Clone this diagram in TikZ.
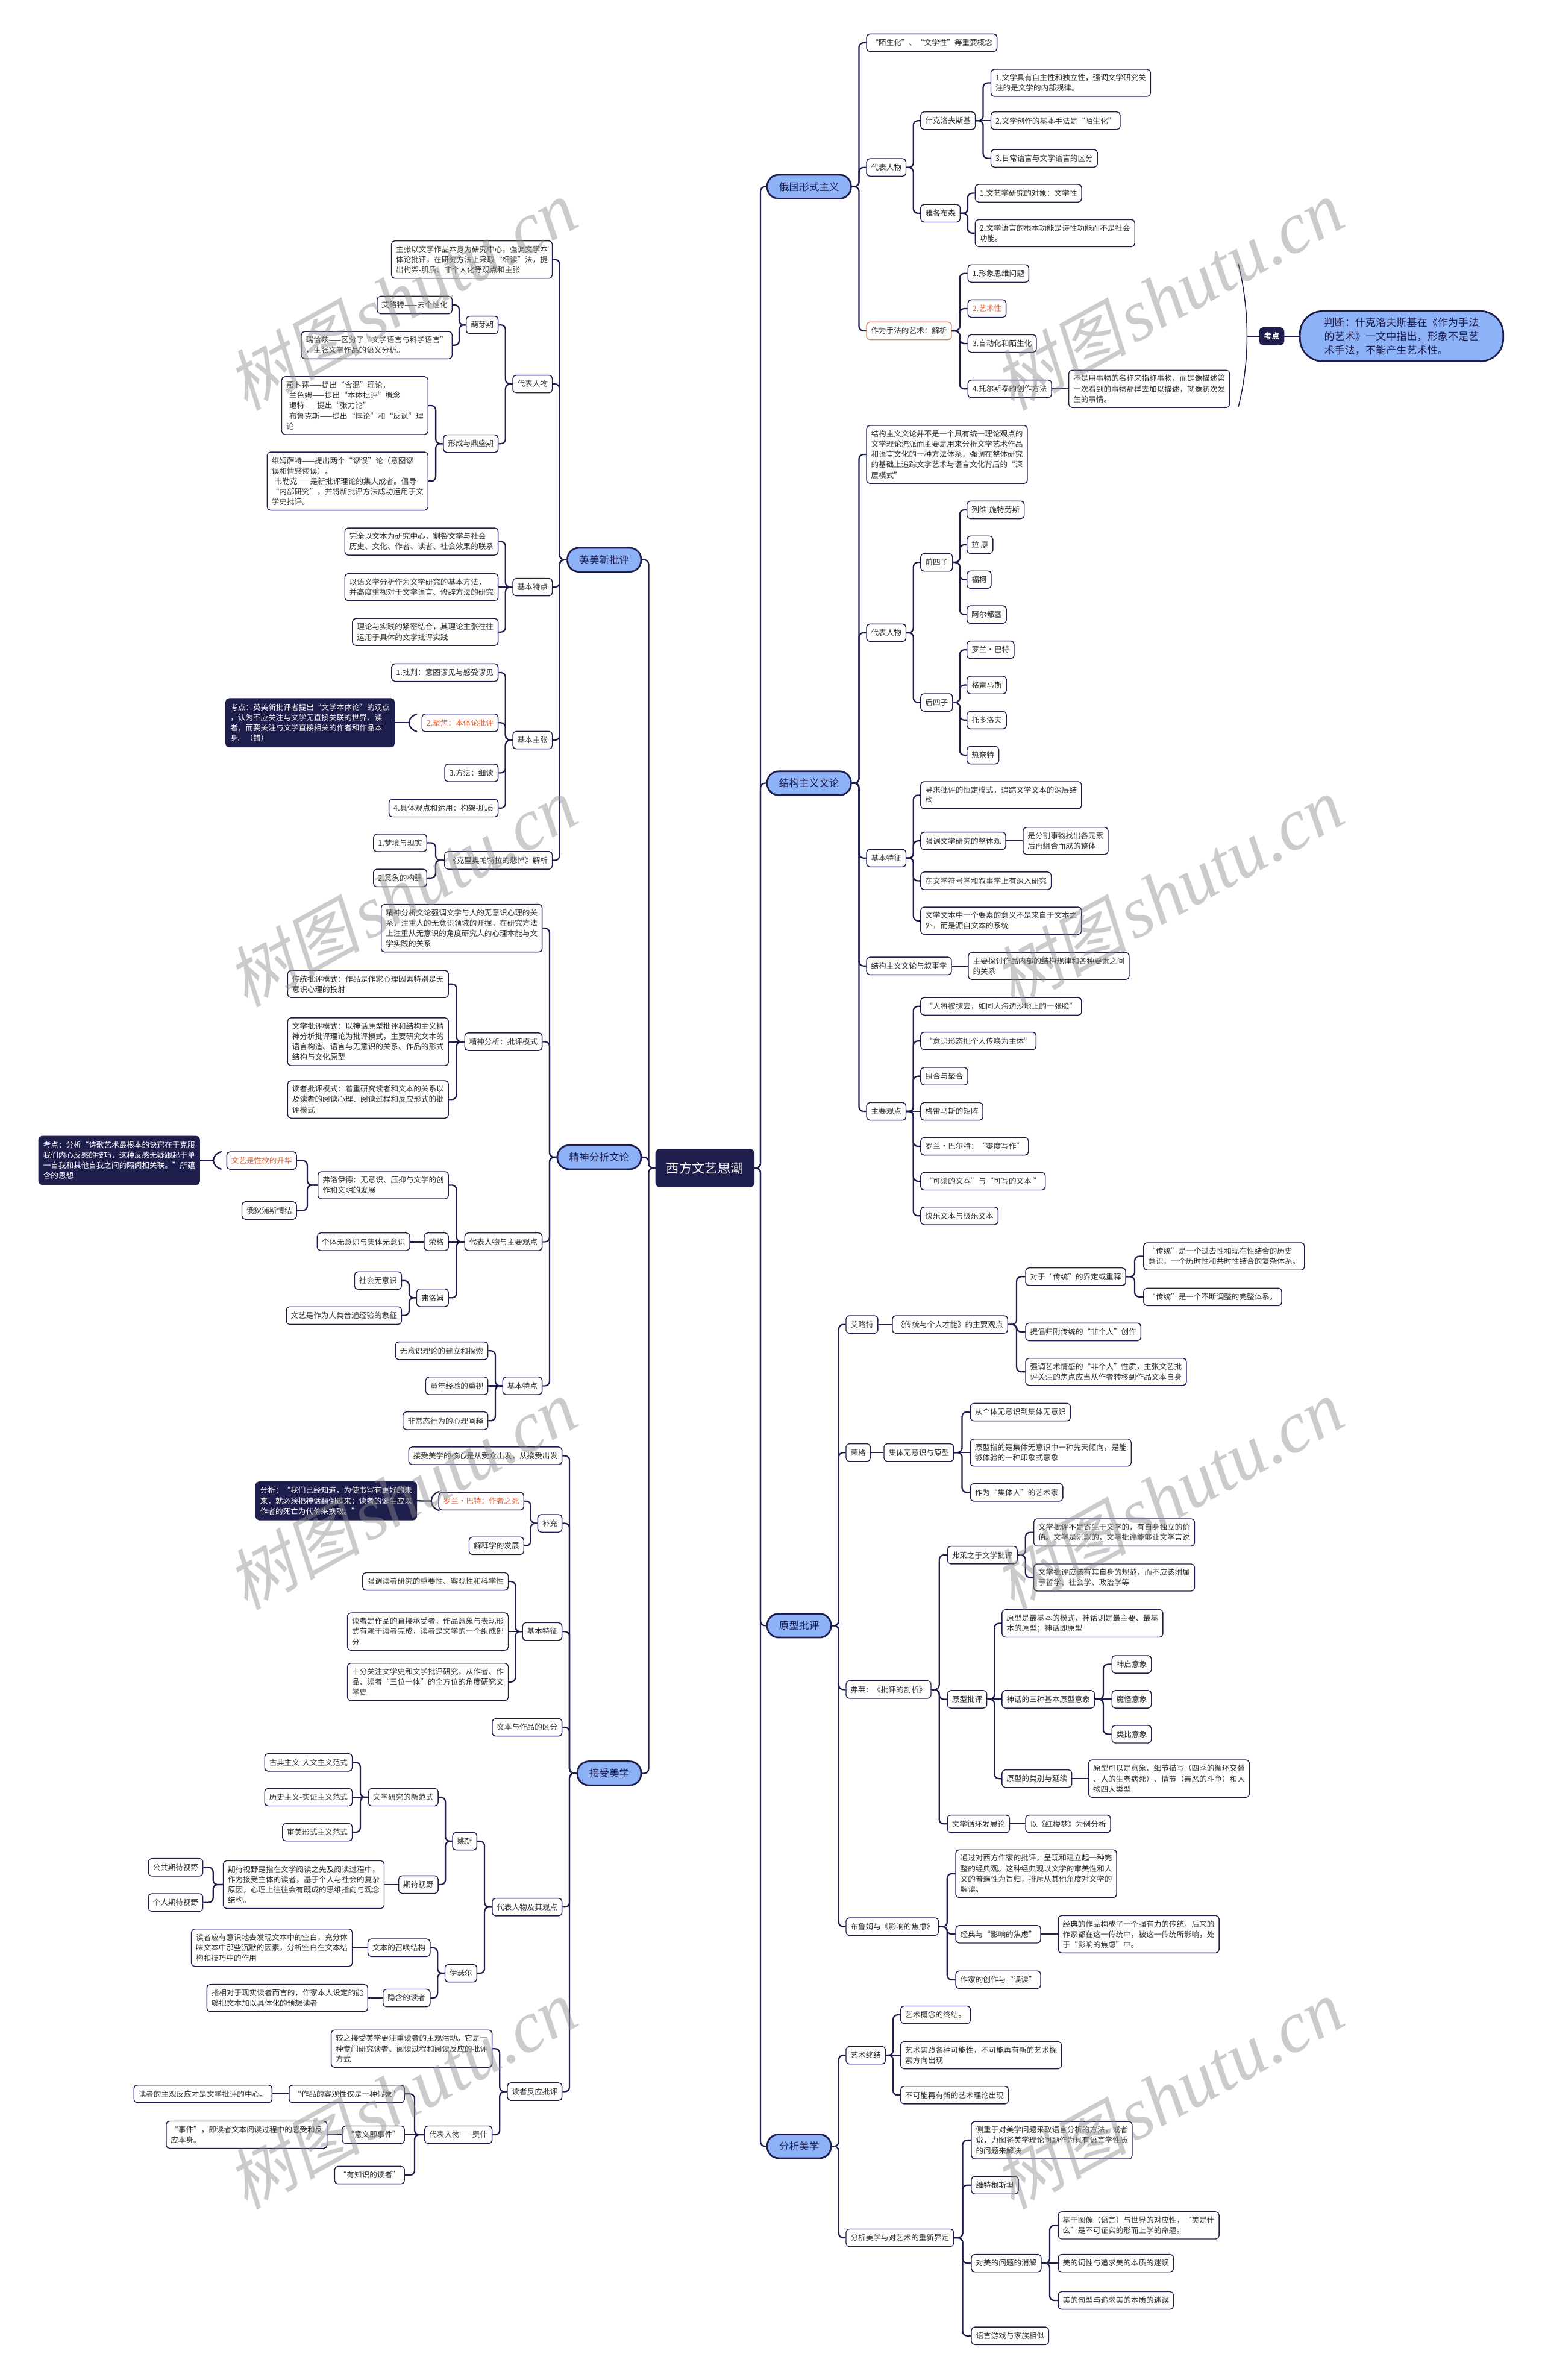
\documentclass[tikz,border=0pt]{standalone}
\usepackage{fontspec}
\setmainfont{Noto Sans CJK SC}
\newfontfamily\wmcjk[FakeSlant=0.2]{Noto Sans CJK SC}
\newfontfamily\wmlat{Liberation Serif}
\usetikzlibrary{calc}
\definecolor{navy}{HTML}{1E1E4D}
\definecolor{mainblue}{HTML}{8DB2F7}
\definecolor{orangec}{HTML}{E0633A}
\definecolor{orangeb}{HTML}{D98A6C}
\definecolor{txt}{HTML}{2E2E2E}
\newcommand\fs{\fontsize{5}{6.8}\selectfont}
\newcommand\fm{\fontsize{6.6}{8}\selectfont}
\tikzset{
 leaf/.style={draw=navy, line width=0.55pt, rounded corners=2.2pt, fill=white, text=txt, font=\fs, inner xsep=3pt, inner ysep=3.2pt, align=left, minimum height=11.6pt},
 lw/.style={leaf, anchor=west},
 le/.style={leaf, anchor=east},
 topic/.style={draw=navy, line width=1.1pt, rounded corners=7.5pt, fill=mainblue, text=navy, font=\fm, minimum height=15.7pt, inner xsep=7.8pt, inner ysep=2pt},
 conn/.style={draw=navy, line width=0.9pt, rounded corners=3pt},
 kaobox/.style={fill=navy, draw=navy, line width=0.55pt, rounded corners=2.2pt, text=white, font=\fs, align=left, inner xsep=3pt, inner ysep=3.4pt},
 hot/.style={text=orangec},
}
\newcommand{\rconn}[2]{\draw[conn] let \p1=(#1.east), \p2=(#2.west) in (\p1) -- ({0.5*\x1+0.5*\x2},\y1) |- (\p2);}
\newcommand{\lconn}[2]{\draw[conn] let \p1=(#1.west), \p2=(#2.east) in (\p1) -- ({0.5*\x1+0.5*\x2},\y1) |- (\p2);}
\newcommand{\rstr}[2]{\draw[conn] (#1.east) -- (#1.east -| #2.west);}
\newcommand{\lstr}[2]{\draw[conn] (#1.west) -- (#1.west -| #2.east);}
\begin{document}
\begin{tikzpicture}[x=1pt,y=-1pt]
\fill[white] (0,0) rectangle (1016,1568);
\useasboundingbox (0,0) rectangle (1016,1568);

% root
\node[fill=navy, draw=navy, rounded corners=3pt, text=white, font=\fontsize{8.5}{10}\selectfont, minimum width=65pt, minimum height=25pt, inner sep=0pt] (root) at (464.5,769.5) {西方文艺思潮};

% topics
\node[topic, anchor=west] (m1) at (505,123) {俄国形式主义};
\node[topic, anchor=west] (m2) at (505,516) {结构主义文论};
\node[topic, anchor=west] (m3) at (505,1071) {原型批评};
\node[topic, anchor=west] (m4) at (505,1414) {分析美学};
\node[topic, anchor=east] (L1) at (423,368.8) {英美新批评};
\node[topic, anchor=east] (L2) at (423,762.4) {精神分析文论};
\node[topic, anchor=east] (L3) at (423,1168.3) {接受美学};
\foreach \t in {m1,m2,m3,m4} {\rconn{root}{\t}}
\foreach \t in {L1,L2,L3} {\lconn{root}{\t}}

% ===== 俄国形式主义
\node[lw] (a1) at (570.7,28.2) {“陌生化”、“文学性”等重要概念};
\node[lw] (a2) at (570.7,110.3) {代表人物};
\node[lw, draw=orangeb] (a3) at (570.7,218) {作为手法的艺术：解析};
\node[lw] (a21) at (606.4,79.5) {什克洛夫斯基};
\node[lw] (a22) at (606.4,140.5) {雅各布森};
\node[lw] (a211) at (652.7,54.6) {1.文学具有自主性和独立性，强调文学研究关\\注的是文学的内部规律。};
\node[lw] (a212) at (652.7,79.5) {2.文学创作的基本手法是“陌生化”};
\node[lw] (a213) at (652.7,104.3) {3.日常语言与文学语言的区分};
\node[lw] (a221) at (642.3,127.3) {1.文艺学研究的对象：文学性};
\node[lw] (a222) at (642.3,153.6) {2.文学语言的根本功能是诗性功能而不是社会\\功能。};
\node[lw] (a31) at (637.5,180.2) {1.形象思维问题};
\node[lw, hot] (a32) at (637.5,203.3) {2.艺术性};
\node[lw] (a33) at (637.5,226.3) {3.自动化和陌生化};
\node[lw] (a34) at (637.5,256.2) {4.托尔斯泰的创作方法};
\node[lw] (a341) at (704,256.2) {不是用事物的名称来指称事物，而是像描述第\\一次看到的事物那样去加以描述，就像初次发\\生的事情。};
\foreach \t in {a1,a2,a3} {\rconn{m1}{\t}}
\foreach \t in {a21,a22} {\rconn{a2}{\t}}
\rconn{a21}{a211} \rstr{a21}{a212} \rconn{a21}{a213}
\rconn{a22}{a221} \rconn{a22}{a222}
\foreach \t in {a31,a32,a33,a34} {\rconn{a3}{\t}}
\rstr{a34}{a341}
\coordinate (arcT) at (816,174);
\coordinate (arcB) at (816,268);
\coordinate (arcM) at (821.7,221.5);
\draw[navy, line width=0.6pt] (arcT) .. controls (823.6,205) and (823.6,238) .. (arcB);
\node[kaobox, font=\fs\bfseries, inner ysep=3.2pt] (kd0) at (838,221.5) {考点};
\node[fill=mainblue, draw=navy, line width=1.1pt, rounded corners=15pt, anchor=west, align=left, font=\fontsize{6.8}{9.2}\selectfont, text=navy, inner xsep=16pt, inner ysep=4pt, minimum height=33pt] (judge) at (856,221.5) {判断：什克洛夫斯基在《作为手法\\的艺术》一文中指出，形象不是艺\\术手法，不能产生艺术性。};
\draw[conn] (arcM) -- (kd0.west);
\draw[conn] (kd0.east) -- (judge.west);

% ===== 结构主义文论
\node[lw] (b1) at (570.7,299.4) {结构主义文论并不是一个具有统一理论观点的\\文学理论流派而主要是用来分析文学艺术作品\\和语言文化的一种方法体系，强调在整体研究\\的基础上追踪文学艺术与语言文化背后的“深\\层模式”};
\node[lw] (b2) at (570.7,416.9) {代表人物};
\node[lw] (b3) at (570.7,565.3) {基本特征};
\node[lw] (b4) at (570.7,636.4) {结构主义文论与叙事学};
\node[lw] (b5) at (570.7,732.2) {主要观点};
\foreach \t in {b1,b2,b3,b4,b5} {\rconn{m2}{\t}}
\node[lw] (b21) at (606.4,370.5) {前四子};
\node[lw] (b22) at (606.4,462.8) {后四子};
\rconn{b2}{b21} \rconn{b2}{b22}
\node[lw] (b211) at (636.9,335.9) {列维-施特劳斯};
\node[lw] (b212) at (636.9,358.9) {拉\ 康};
\node[lw] (b213) at (636.9,381.9) {福柯};
\node[lw] (b214) at (636.9,404.9) {阿尔都塞};
\node[lw] (b221) at (636.9,428.1) {罗兰·巴特};
\node[lw] (b222) at (636.9,451.3) {格雷马斯};
\node[lw] (b223) at (636.9,474.4) {托多洛夫};
\node[lw] (b224) at (636.9,497.5) {热奈特};
\foreach \t in {b211,b212,b213,b214} {\rconn{b21}{\t}}
\foreach \t in {b221,b222,b223,b224} {\rconn{b22}{\t}}
\node[lw] (b31) at (606.4,523.9) {寻求批评的恒定模式，追踪文学文本的深层结\\构};
\node[lw] (b32) at (606.4,554) {强调文学研究的整体观};
\node[lw] (b321) at (673.9,554) {是分割事物找出各元素\\后再组合而成的整体};
\node[lw] (b33) at (606.4,580.3) {在文学符号学和叙事学上有深入研究};
\node[lw] (b34) at (606.4,606.6) {文学文本中一个要素的意义不是来自于文本之\\外，而是源自文本的系统};
\foreach \t in {b31,b32,b33,b34} {\rconn{b3}{\t}}
\rstr{b32}{b321}
\node[lw] (b41) at (637.8,636.4) {主要探讨作品内部的结构规律和各种要素之间\\的关系};
\rstr{b4}{b41}
\node[lw] (b51) at (606.4,663) {“人将被抹去，如同大海边沙地上的一张脸”};
\node[lw] (b52) at (606.4,685.8) {“意识形态把个人传唤为主体”};
\node[lw] (b53) at (606.4,709) {组合与聚合};
\node[lw] (b54) at (606.4,732.2) {格雷马斯的矩阵};
\node[lw] (b55) at (606.4,755.2) {罗兰·巴尔特：“零度写作”};
\node[lw] (b56) at (606.4,778.2) {“可读的文本”与“可写的文本 ”};
\node[lw] (b57) at (606.4,801) {快乐文本与极乐文本};
\foreach \t in {b51,b52,b53,b55,b56,b57} {\rconn{b5}{\t}}
\rstr{b5}{b54}

% ===== 原型批评
\node[lw] (c1) at (557.2,872.6) {艾略特};
\node[lw] (c2) at (557.2,957) {荣格};
\node[lw] (c3) at (557.2,1113.1) {弗莱：《批评的剖析》};
\node[lw] (c4) at (557.2,1269.3) {布鲁姆与《影响的焦虑》};
\foreach \t in {c1,c2,c3,c4} {\rconn{m3}{\t}}
\node[lw] (c11) at (587.7,872.6) {《传统与个人才能》的主要观点};
\rstr{c1}{c11}
\node[lw] (c111) at (675.5,841.1) {对于“传统”的界定或重释};
\node[lw] (c1111) at (753.3,827.7) {“传统”是一个过去性和现在性结合的历史\\意识，一个历时性和共时性结合的复杂体系。};
\node[lw] (c1112) at (753.3,854.4) {“传统”是一个不断调整的完整体系。};
\node[lw] (c112) at (675.5,877.5) {提倡归附传统的“非个人”创作};
\node[lw] (c113) at (675.5,903.8) {强调艺术情感的“非个人”性质，主张文艺批\\评关注的焦点应当从作者转移到作品文本自身};
\foreach \t in {c111,c112,c113} {\rconn{c11}{\t}}
\rconn{c111}{c1111} \rconn{c111}{c1112}
\node[lw] (c21) at (582.2,957) {集体无意识与原型};
\rstr{c2}{c21}
\node[lw] (c211) at (639.1,930.3) {从个体无意识到集体无意识};
\node[lw] (c212) at (639.1,957) {原型指的是集体无意识中一种先天倾向，是能\\够体验的一种印象式意象};
\node[lw] (c213) at (639.1,983.2) {作为“集体人”的艺术家};
\rconn{c21}{c211} \rstr{c21}{c212} \rconn{c21}{c213}
\node[lw] (c31) at (624,1024.5) {弗莱之于文学批评};
\node[lw] (c32) at (624,1119.5) {原型批评};
\node[lw] (c33) at (624,1201.6) {文学循环发展论};
\foreach \t in {c31,c32,c33} {\rconn{c3}{\t}}
\node[lw] (c311) at (680.9,1009.6) {文学批评不是寄生于文学的，有自身独立的价\\值。文学是沉默的，文学批评能够让文学言说};
\node[lw] (c312) at (680.9,1039.3) {文学批评应该有其自身的规范，而不应该附属\\于哲学、社会学、政治学等};
\rconn{c31}{c311} \rconn{c31}{c312}
\node[lw] (c321) at (660,1069.5) {原型是最基本的模式，神话则是最主要、最基\\本的原型；神话即原型};
\node[lw] (c322) at (660,1119.5) {神话的三种基本原型意象};
\node[lw] (c323) at (660,1171.8) {原型的类别与延续};
\rconn{c32}{c321} \rstr{c32}{c322} \rconn{c32}{c323}
\node[lw] (c3221) at (732.4,1096.5) {神启意象};
\node[lw] (c3222) at (732.4,1119.5) {魔怪意象};
\node[lw] (c3223) at (732.4,1142.5) {类比意象};
\rconn{c322}{c3221} \rstr{c322}{c3222} \rconn{c322}{c3223}
\node[lw] (c3231) at (717,1171.8) {原型可以是意象、细节描写（四季的循环交替\\、人的生老病死）、情节（善恶的斗争）和人\\物四大类型};
\rstr{c323}{c3231}
\node[lw] (c331) at (675.5,1201.6) {以《红楼梦》为例分析};
\rstr{c33}{c331}
\node[lw] (c41) at (629.5,1234.4) {通过对西方作家的批评，呈现和建立起一种完\\整的经典观。这种经典观以文学的审美性和人\\文的普遍性为旨归，排斥从其他角度对文学的\\解读。};
\node[lw] (c42) at (629.5,1274.3) {经典与“影响的焦虑”};
\node[lw] (c43) at (629.5,1304.3) {作家的创作与“误读”};
\foreach \t in {c41,c42,c43} {\rconn{c4}{\t}}
\node[lw] (c421) at (697,1274.3) {经典的作品构成了一个强有力的传统，后来的\\作家都在这一传统中，被这一传统所影响，处\\于“影响的焦虑”中。};
\rstr{c42}{c421}

% ===== 分析美学
\node[lw] (d1) at (557.2,1354) {艺术终结};
\node[lw] (d2) at (557.2,1474.3) {分析美学与对艺术的重新界定};
\rconn{m4}{d1} \rconn{m4}{d2}
\node[lw] (d11) at (593.2,1327.4) {艺术概念的终结。};
\node[lw] (d12) at (593.2,1354) {艺术实践各种可能性，不可能再有新的艺术探\\索方向出现};
\node[lw] (d13) at (593.2,1380.3) {不可能再有新的艺术理论出现};
\rconn{d1}{d11} \rstr{d1}{d12} \rconn{d1}{d13}
\node[lw] (d21) at (639.8,1410) {侧重于对美学问题采取语言分析的方法，或者\\说，力图将美学理论问题作为具有语言学性质\\的问题来解决};
\node[lw] (d22) at (639.8,1439.6) {维特根斯坦};
\node[lw] (d23) at (639.8,1491) {对美的问题的消解};
\node[lw] (d24) at (639.8,1538.9) {语言游戏与家族相似};
\foreach \t in {d21,d22,d23,d24} {\rconn{d2}{\t}}
\node[lw] (d231) at (697,1466.1) {基于图像（语言）与世界的对应性，“美是什\\么”是不可证实的形而上学的命题。};
\node[lw] (d232) at (697,1491) {美的词性与追求美的本质的迷误};
\node[lw] (d233) at (697,1515.6) {美的句型与追求美的本质的迷误};
\rconn{d23}{d231} \rstr{d23}{d232} \rconn{d23}{d233}

% ===== 英美新批评
\node[le] (e1) at (364.2,171) {主张以文学作品本身为研究中心，强调文学本\\体论批评，在研究方法上采取“细读”法，提\\出构架-肌质、非个人化等观点和主张};
\node[le] (e2) at (364.2,253) {代表人物};
\node[le] (e3) at (364.2,386.8) {基本特点};
\node[le] (e4) at (364.2,487.6) {基本主张};
\node[le] (e5) at (364.2,566.8) {《克里奥帕特拉的悲悼》解析};
\foreach \t in {e1,e2,e3,e4,e5} {\lconn{L1}{\t}}
\node[le] (e21) at (328.5,214.1) {萌芽期};
\node[le] (e22) at (328.5,292.3) {形成与鼎盛期};
\lconn{e2}{e21} \lconn{e2}{e22}
\node[le] (e211) at (298.2,200.9) {艾略特——去个性化};
\node[le] (e212) at (298.2,227.4) {瑞恰兹——区分了“文学语言与科学语言”\\，主张文学作品的语义分析。};
\lconn{e21}{e211} \lconn{e21}{e212}
\node[le] (e221) at (282.3,267.2) {燕卜荪——提出“含混”理论。\\\hspace*{2pt}兰色姆——提出“本体批评”概念\\\hspace*{2pt}退特——提出“张力论”\\\hspace*{2pt}布鲁克斯——提出“悖论”和“反讽”理\\论};
\node[le] (e222) at (282.3,317) {维姆萨特——提出两个“谬误”论（意图谬\\误和情感谬误）。\\\hspace*{2pt}韦勒克——是新批评理论的集大成者。倡导\\“内部研究”，并将新批评方法成功运用于文\\学史批评。};
\lconn{e22}{e221} \lconn{e22}{e222}
\node[le] (e31) at (328.5,356.8) {完全以文本为研究中心，割裂文学与社会\\历史、文化、作者、读者、社会效果的联系};
\node[le] (e32) at (328.5,386.8) {以语义学分析作为文学研究的基本方法，\\并高度重视对于文学语言、修辞方法的研究};
\node[le] (e33) at (328.5,416.4) {理论与实践的紧密结合，其理论主张往往\\运用于具体的文学批评实践};
\lconn{e3}{e31} \lstr{e3}{e32} \lconn{e3}{e33}
\node[le] (e41) at (328.5,443.1) {1.批判：意图谬见与感受谬见};
\node[le, hot] (e42) at (328.5,476.2) {2.聚焦：本体论批评};
\node[le] (e43) at (328.5,509.2) {3.方法：细读};
\node[le] (e44) at (328.5,532.4) {4.具体观点和运用：构架-肌质};
\foreach \t in {e41,e42,e43,e44} {\lconn{e4}{\t}}
\node[kaobox, anchor=east] (K1) at (260.1,476.2) {考点：英美新批评者提出“文学本体论”的观点\\，认为不应关注与文学无直接关联的世界、读\\者，而要关注与文学直接相关的作者和作品本\\身。（错）};
\coordinate (k1t) at (274.8,470.4);
\coordinate (k1b) at (274.8,482);
\coordinate (k1m) at (269.5,476.2);
\draw[conn] (k1t) .. controls (267.7,472.5) and (267.7,479.9) .. (k1b);
\draw[conn] (K1.east) -- (k1m);
\node[le] (e51) at (281.5,555.3) {1.梦境与现实};
\node[le] (e52) at (281.5,578.4) {2.意象的构建};
\lconn{e5}{e51} \lconn{e5}{e52}

% ===== 精神分析文论
\node[le] (f1) at (357.5,611.5) {精神分析文论强调文学与人的无意识心理的关\\系，注重人的无意识领域的开掘，在研究方法\\上注重从无意识的角度研究人的心理本能与文\\学实践的关系};
\node[le] (f2) at (357.5,686.3) {精神分析：批评模式};
\node[le] (f3) at (357.5,818.1) {代表人物与主要观点};
\node[le] (f4) at (357.5,913) {基本特点};
\foreach \t in {f1,f2,f3,f4} {\lconn{L2}{\t}}
\node[le] (f21) at (295.8,648.3) {传统批评模式：作品是作家心理因素特别是无\\意识心理的投射};
\node[le] (f22) at (295.8,686.3) {文学批评模式：以神话原型批评和结构主义精\\神分析批评理论为批评模式，主要研究文本的\\语言构造、语言与无意识的关系、作品的形式\\结构与文化原型};
\node[le] (f23) at (295.8,724.3) {读者批评模式：着重研究读者和文本的关系以\\及读者的阅读心理、阅读过程和反应形式的批\\评模式};
\lconn{f2}{f21} \lstr{f2}{f22} \lconn{f2}{f23}
\node[le] (f31) at (295.8,780.8) {弗洛伊德：无意识、压抑与文学的创\\作和文明的发展};
\node[le] (f32) at (295.8,818.1) {荣格};
\node[le] (f33) at (295.8,855) {弗洛姆};
\lconn{f3}{f31} \lstr{f3}{f32} \lconn{f3}{f33}
\node[le, hot] (f311) at (195.7,764.6) {文艺是性欲的升华};
\node[le] (f312) at (195.7,797.5) {俄狄浦斯情结};
\lconn{f31}{f311} \lconn{f31}{f312}
\node[kaobox, anchor=east] (K2) at (131.8,764.5) {考点：分析“诗歌艺术最根本的诀窍在于克服\\我们内心反感的技巧，这种反感无疑跟起于单\\一自我和其他自我之间的隔阂相关联。”所蕴\\含的思想};
\coordinate (k2t) at (146,758.7);
\coordinate (k2b) at (146,770.3);
\coordinate (k2m) at (140.6,764.5);
\draw[conn] (k2t) .. controls (138.8,760.8) and (138.8,768.2) .. (k2b);
\draw[conn] (K2.east) -- (k2m);
\node[le] (f321) at (270.3,818.1) {个体无意识与集体无意识};
\lstr{f32}{f321}
\node[le] (f331) at (264.9,843.7) {社会无意识};
\node[le] (f332) at (264.9,866.7) {文艺是作为人类普遍经验的象征};
\lconn{f33}{f331} \lconn{f33}{f332}
\node[le] (f41) at (321.8,889.9) {无意识理论的建立和探索};
\node[le] (f42) at (321.8,913) {童年经验的重视};
\node[le] (f43) at (321.8,936) {非常态行为的心理阐释};
\lconn{f4}{f41} \lstr{f4}{f42} \lconn{f4}{f43}

% ===== 接受美学
\node[le] (g1) at (370.6,959.1) {接受美学的核心是从受众出发，从接受出发};
\node[le] (g2) at (370.6,1003.6) {补充};
\node[le] (g3) at (370.6,1074.9) {基本特征};
\node[le] (g4) at (370.6,1138) {文本与作品的区分};
\node[le] (g5) at (370.6,1256.4) {代表人物及其观点};
\node[le] (g6) at (370.6,1378) {读者反应批评};
\foreach \t in {g1,g2,g3,g4,g5,g6} {\lconn{L3}{\t}}
\node[le, hot] (g21) at (345.4,989) {罗兰·巴特：作者之死};
\node[le] (g22) at (345.4,1018.4) {解释学的发展};
\lconn{g2}{g21} \lconn{g2}{g22}
\node[kaobox, anchor=east] (K3) at (274.8,988.8) {分析：“我们已经知道，为使书写有更好的未\\来，就必须把神话翻倒过来：读者的诞生应以\\作者的死亡为代价来换取。”};
\coordinate (k3t) at (289.6,982.6);
\coordinate (k3b) at (289.6,995.2);
\coordinate (k3m) at (284.2,988.9);
\draw[conn] (k3t) .. controls (282.4,984.9) and (282.4,992.9) .. (k3b);
\draw[conn] (K3.east) -- (k3m);
\node[le] (g31) at (335.2,1041.9) {强调读者研究的重要性、客观性和科学性};
\node[le] (g32) at (335.2,1074.9) {读者是作品的直接承受者，作品意象与表现形\\式有赖于读者完成，读者是文学的一个组成部\\分};
\node[le] (g33) at (335.2,1108.1) {十分关注文学史和文学批评研究，从作者、作\\品、读者“三位一体”的全方位的角度研究文\\学史};
\lconn{g3}{g31} \lstr{g3}{g32} \lconn{g3}{g33}
\node[le] (g51) at (314.5,1213) {姚斯};
\node[le] (g52) at (314.5,1300) {伊瑟尔};
\lconn{g5}{g51} \lconn{g5}{g52}
\node[le] (g511) at (289,1184) {文学研究的新范式};
\node[le] (g512) at (289,1241.6) {期待视野};
\lconn{g51}{g511} \lconn{g51}{g512}
\node[le] (g5111) at (232.4,1161.1) {古典主义-人文主义范式};
\node[le] (g5112) at (232.4,1184) {历史主义-实证主义范式};
\node[le] (g5113) at (232.4,1207.1) {审美形式主义范式};
\lconn{g511}{g5111} \lstr{g511}{g5112} \lconn{g511}{g5113}
\node[le] (g5121) at (253.4,1241.6) {期待视野是指在文学阅读之先及阅读过程中，\\作为接受主体的读者，基于个人与社会的复杂\\原因，心理上往往会有既成的思维指向与观念\\结构。};
\lstr{g512}{g5121}
\node[le] (g51211) at (134,1230.2) {公共期待视野};
\node[le] (g51212) at (134,1253.4) {个人期待视野};
\lconn{g5121}{g51211} \lconn{g5121}{g51212}
\node[le] (g521) at (283.7,1283.2) {文本的召唤结构};
\node[le] (g522) at (283.7,1316.3) {隐含的读者};
\lconn{g52}{g521} \lconn{g52}{g522}
\node[le] (g5211) at (232.4,1283.2) {读者应有意识地去发现文本中的空白，充分体\\味文本中那些沉默的因素，分析空白在文本结\\构和技巧中的作用};
\lstr{g521}{g5211}
\node[le] (g5221) at (242.6,1316.3) {指相对于现实读者而言的，作家本人设定的能\\够把文本加以具体化的预想读者};
\lstr{g522}{g5221}
\node[le] (g61) at (324.5,1349.7) {较之接受美学更注重读者的主观活动。它是一\\种专门研究读者、阅读过程和阅读反应的批评\\方式};
\node[le] (g62) at (324.5,1406.4) {代表人物——费什};
\lconn{g6}{g61} \lconn{g6}{g62}
\node[le] (g621) at (266.8,1379.5) {“作品的客观性仅是一种假象”};
\node[le] (g622) at (266.8,1406.4) {“意义即事件”};
\node[le] (g623) at (266.8,1433) {“有知识的读者”};
\lconn{g62}{g621} \lstr{g62}{g622} \lconn{g62}{g623}
\node[le] (g6211) at (179.5,1379.5) {读者的主观反应才是文学批评的中心。};
\lstr{g621}{g6211}
\node[le] (g6221) at (215.8,1406.4) {“事件”，即读者文本阅读过程中的感受和反\\应本身。};
\lstr{g622}{g6221}

% watermarks
\foreach \wx/\wy [count=\i] in {265/195, 265/588, 265/985, 265/1380, 770/195, 770/588, 770/985, 770/1380}
  \node[rotate=29, text=black!45, text opacity=0.45, inner sep=0pt] (wm\i) at (\wx,\wy) {{\wmcjk\fontsize{44}{44}\selectfont 树图}\hspace{4pt}{\wmlat\itshape\fontsize{48}{48}\selectfont shutu.cn}};
\end{tikzpicture}
\end{document}
